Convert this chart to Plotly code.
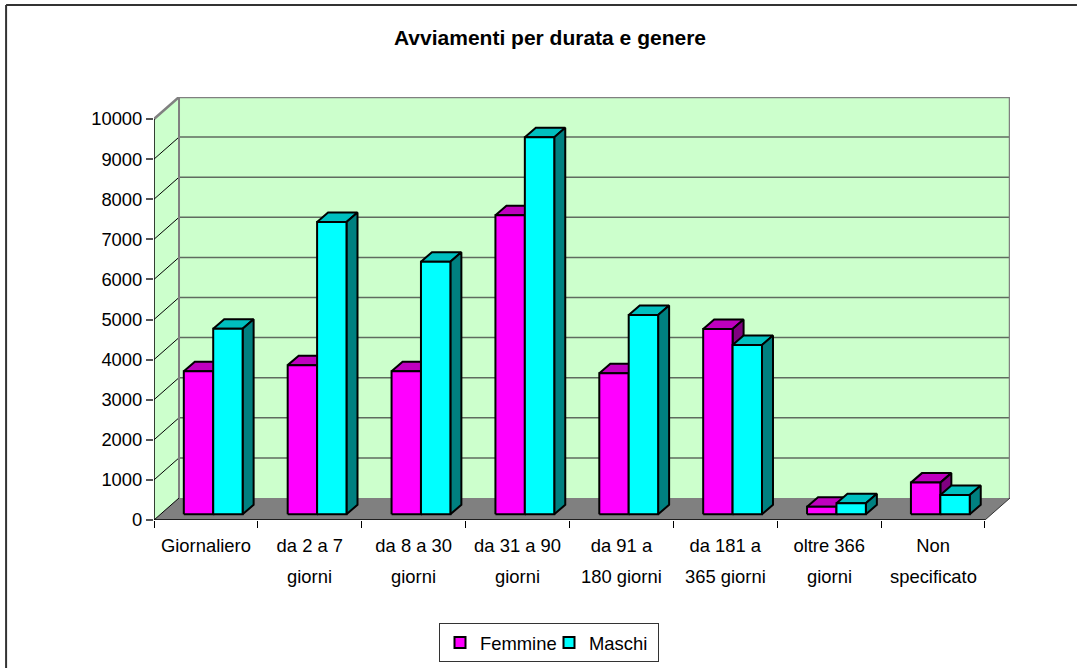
import plotly.graph_objects as go

categories_l1 = ["Giornaliero", "da 2 a 7", "da 8 a 30", "da 31 a 90", "da 91 a", "da 181 a", "oltre 366", "Non"]
categories_l2 = ["", "giorni", "giorni", "giorni", "180 giorni", "365 giorni", "giorni", "specificato"]
femmine = [3570, 3720, 3570, 7460, 3520, 4620, 190, 790]
maschi = [4630, 7290, 6300, 9400, 4970, 4220, 275, 480]
y_ticks = list(range(0, 11000, 1000))

# pixel geometry converted to data units
L, R, T, B = 153.5, 1010.0, 97.0, 520.0
PXX = (984.3 - 153.5) / 8            # px per category
PXY = 0.0401                         # px per unit of value
WALL_DX, WALL_DY = 25 / PXX, 22 / PXY
BAR_DX, BAR_DY = 11 / PXX, 9.5 / PXY
BASE_DY = 5.7 / PXY
BAR_W = 29.4 / PXX
BAR_X0 = 29.8 / PXX
N = len(femmine)
x_rng = [0, N + WALL_DX]
y_rng = [0, (B - T) / PXY]
FONT = 18.4


def faces(values, shift):
    front, top, side = ([], []), ([], []), ([], [])
    for i, v in enumerate(values):
        x0 = i + BAR_X0 + shift * BAR_W
        x1 = x0 + BAR_W
        y0 = BASE_DY
        y1 = BASE_DY + v
        for f, xs, ys in (
            (front, [x0, x1, x1, x0, x0], [y0, y0, y1, y1, y0]),
            (top, [x0, x1, x1 + BAR_DX, x0 + BAR_DX, x0], [y1, y1, y1 + BAR_DY, y1 + BAR_DY, y1]),
            (side, [x1, x1 + BAR_DX, x1 + BAR_DX, x1, x1], [y0, y0 + BAR_DY, y1 + BAR_DY, y1, y0]),
        ):
            f[0].extend(xs + [None])
            f[1].extend(ys + [None])
    return front, top, side


fig = go.Figure()


def poly(x, y, fill, line=None, width=0, clip=True):
    fig.add_trace(go.Scatter(
        x=x, y=y, mode="lines", fill="toself" if fill else None, fillcolor=fill,
        line=dict(color=line or "rgba(0,0,0,0)", width=width), hoverinfo="skip",
        showlegend=False, cliponaxis=clip))


top_v = y_ticks[-1]
# back wall, left wall, floor
poly([WALL_DX, N + WALL_DX, N + WALL_DX, WALL_DX, WALL_DX],
     [WALL_DY, WALL_DY, top_v + WALL_DY, top_v + WALL_DY, WALL_DY], "#CCFFCC")
poly([0, WALL_DX, WALL_DX, 0, 0], [0, WALL_DY, top_v + WALL_DY, top_v, 0], "#CCFFCC")
poly([0, N, N + WALL_DX, WALL_DX, 0], [0, 0, WALL_DY, WALL_DY, 0], "#808080")

# gridlines on the back wall and the diagonals on the left wall
gx, gy, dx, dy = [], [], [], []
for v in y_ticks[1:-1]:
    gx += [WALL_DX, N + WALL_DX, None]
    gy += [v + WALL_DY, v + WALL_DY, None]
for v in y_ticks[:-1]:
    dx += [0, WALL_DX, None]
    dy += [v, v + WALL_DY, None]
poly(gx, gy, None, "#5F6B5F", 1.5)
poly(dx, dy, None, "#000000", 1)
# wall edges
poly([0, WALL_DX, N + WALL_DX, N + WALL_DX],
     [top_v, top_v + WALL_DY, top_v + WALL_DY, WALL_DY], None, "#808080", 2.5, False)
poly([WALL_DX, WALL_DX], [WALL_DY, top_v + WALL_DY], None, "#808080", 2)
poly([N, N + WALL_DX], [0, WALL_DY], None, "#333333", 1, False)

# bars
for values, shift, c_front, c_top, c_side in (
    (femmine, 0, "#FF00FF", "#BF00BF", "#800080"),
    (maschi, 1, "#00FFFF", "#00BFBF", "#008080"),
):
    front, top, side = faces(values, shift)
    poly(top[0], top[1], c_top, "#000000", 2)
    poly(side[0], side[1], c_side, "#000000", 2)
    poly(front[0], front[1], c_front, "#000000", 2)

# front axes
poly([0, N], [0, 0], None, "#000000", 1.5, False)
poly([0, 0], [0, top_v], None, "#000000", 1.5, False)

# legend entries
for name, col in (("Femmine", "#FF00FF"), ("Maschi", "#00FFFF")):
    fig.add_trace(go.Scatter(
        x=[None], y=[None], mode="markers", name=name,
        marker=dict(symbol="square", size=11, color=col, line=dict(color="#000000", width=2))))

pw, ph = R - L, B - T
fx = lambda p: (p - L) / pw
fy = lambda p: 1 - (p - T) / ph

# second lines of the category labels
for i, t in enumerate(categories_l2):
    if t:
        fig.add_annotation(x=i + 0.5, xref="x", y=fy(576), yref="paper", text=t, showarrow=False,
                           font=dict(size=FONT), yanchor="middle", xanchor="center")

for x0, y0, x1, y1 in ((5.5, 5, 5.5, 668), (5.5, 5, 1077, 5)):
    fig.add_shape(type="line", xref="paper", yref="paper", x0=fx(x0), y0=fy(y0), x1=fx(x1), y1=fy(y1),
                  line=dict(color="#333333", width=2))

fig.update_layout(
    width=1077, height=668, autosize=False,
    margin=dict(l=L, r=1077 - R, t=T, b=668 - B, pad=0),
    paper_bgcolor="white", plot_bgcolor="white",
    font=dict(family="Liberation Sans, Arial, sans-serif", size=FONT, color="#000000"),
    title=dict(text="<b>Avviamenti per durata e genere</b>", x=550 / 1077, xanchor="center",
               y=1 - 38 / 668, yanchor="middle", font=dict(size=21)),
    xaxis=dict(range=x_rng, tickmode="array", tickvals=[i + 0.5 for i in range(N)], ticktext=categories_l1,
               ticks="outside", ticklen=9, tickcolor="rgba(0,0,0,0)", showgrid=False, zeroline=False, showline=False,
               minor=dict(tickmode="array", tickvals=list(range(N + 1)), ticks="outside", ticklen=7,
                          tickcolor="#000000", tickwidth=1, showgrid=False)),
    yaxis=dict(range=y_rng, tickmode="array", tickvals=y_ticks, ticktext=[str(v) for v in y_ticks],
               ticks="outside", ticklen=7, tickcolor="#555555",
               tickwidth=1.5, showgrid=False, zeroline=False, showline=False),
    legend=dict(orientation="h", xref="container", yref="container", x=439 / 1077, xanchor="left",
                y=1 - 623 / 668, yanchor="top", entrywidth=64, entrywidthmode="pixels",
                bordercolor="#333333", borderwidth=1, bgcolor="white", font=dict(size=FONT)),
)
fig.write_html("out.html", post_script="document.body.style.margin='0';", config=dict(displayModeBar=False))
